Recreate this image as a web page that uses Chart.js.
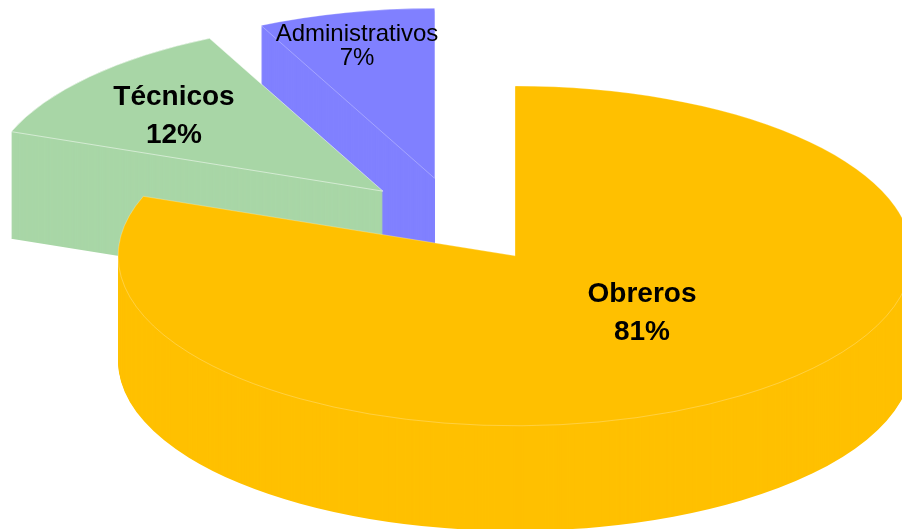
<!DOCTYPE html>
<html>
<head>
<meta charset="utf-8">
<style>
html,body{margin:0;padding:0;background:#fff;overflow:hidden}
canvas{display:block}
</style>
<script src="https://cdn.jsdelivr.net/npm/chart.js@4"></script>
</head>
<body>
<canvas id="c" width="902" height="529"></canvas>
<script>
const categories = ['Obreros', 'Técnicos', 'Administrativos'];
const values = [80.7, 12.1, 7.2];
const sliceColors = ['#FFC000', '#A8D6A6', '#8080FF'];
const explode = [102, 100, 100];

const TILT = 0.428;
const depths = [105, 107, 106];
const rimColors = ['rgba(255,255,255,0.35)', 'rgba(255,255,255,0.7)', 'rgba(255,255,255,0.4)'];
const labelStyle = [
  {x: 642, y: 294.5, gap: 38, font: 'bold 28px "Liberation Sans", Arial, sans-serif'},
  {x: 174, y: 97.5, gap: 38, font: 'bold 28px "Liberation Sans", Arial, sans-serif'},
  {x: 357, y: 34, gap: 24, font: '24px "Liberation Sans", Arial, sans-serif'}
];

const pie3d = {
  id: 'pie3d',
  beforeDatasetDraw(chart, args) {
    const ctx = chart.ctx, arcs = args.meta.data;
    const cy = (chart.chartArea.top + chart.chartArea.bottom) / 2;
    const place = (arc, i, d) => {
      const half = (arc.startAngle + arc.endAngle) / 2;
      ctx.translate(0, cy + d);
      ctx.scale(1, TILT);
      ctx.translate(0, -cy);
      ctx.translate(Math.cos(half) * explode[i], Math.sin(half) * explode[i]);
    };
    // Painted front to back, each new layer going behind what is already there.
    ctx.save();
    ctx.globalCompositeOperation = 'destination-over';
    for (let i = 0; i < arcs.length; i++) {
      const arc = arcs[i], base = arc.options;
      const rim = Object.create(base);
      rim.backgroundColor = 'rgba(0,0,0,0)';
      rim.borderWidth = 1;
      rim.borderColor = rimColors[i];
      arc.options = rim;
      ctx.save();
      place(arc, i, 0);
      arc.draw(ctx);
      ctx.restore();
      const flat = Object.create(base);
      flat.borderWidth = 0;
      arc.options = flat;
      for (let d = 0; d <= depths[i]; d++) {
        ctx.save();
        place(arc, i, d);
        arc.draw(ctx);
        ctx.restore();
      }
      arc.options = base;
    }
    ctx.restore();
    return false;
  },
  afterDatasetsDraw(chart) {
    const ctx = chart.ctx;
    ctx.save();
    ctx.fillStyle = '#000';
    ctx.textAlign = 'center';
    ctx.textBaseline = 'middle';
    categories.forEach((name, i) => {
      const s = labelStyle[i];
      ctx.font = s.font;
      ctx.fillText(name, s.x, s.y);
      ctx.fillText(Math.round(values[i]) + '%', s.x, s.y + s.gap);
    });
    ctx.restore();
  }
};

new Chart(document.getElementById('c'), {
  type: 'pie',
  data: {
    labels: categories,
    datasets: [{
      data: values,
      backgroundColor: sliceColors,
      borderWidth: 0,
      hoverOffset: 0
    }]
  },
  options: {
    responsive: false,
    animation: false,
    radius: 397,
    layout: {padding: {left: 12, bottom: 89}},
    plugins: {legend: {display: false}, tooltip: {enabled: false}, title: {display: false}}
  },
  plugins: [pie3d]
});
</script>
</body>
</html>
